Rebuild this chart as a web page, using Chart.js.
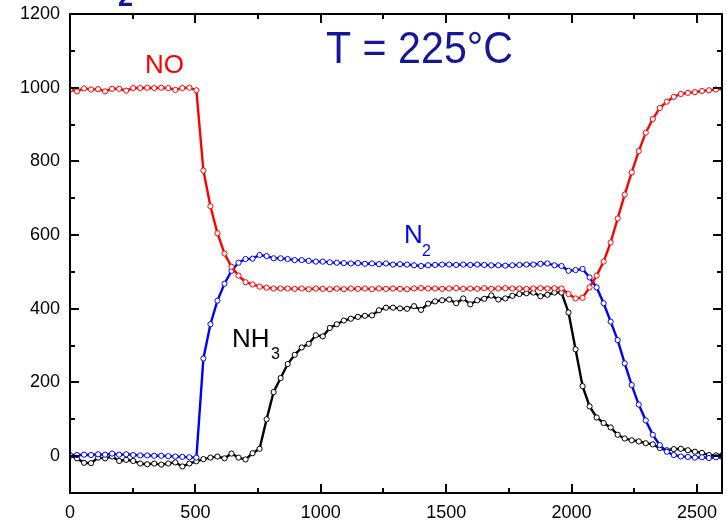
<!DOCTYPE html>
<html>
<head>
<meta charset="utf-8">
<script src="https://cdn.jsdelivr.net/npm/chart.js@4"></script>
<style>
html,body{margin:0;padding:0;background:#fff;}
#wrap{width:727px;height:526px;position:relative;}
</style>
</head>
<body>
<div id="wrap"><canvas id="c" width="727" height="526"></canvas></div>
<script>
// ---- data ----
const times = [0,28,56,84,112,140,168,196,224,252,280,308,336,364,392,420,448,476,504,532,560,588,616,644,672,700,728,756,784,812,840,868,896,924,952,980,1008,1036,1064,1092,1120,1148,1176,1204,1232,1260,1288,1316,1344,1372,1400,1428,1456,1484,1512,1540,1568,1596,1624,1652,1680,1708,1736,1764,1792,1820,1848,1876,1904,1932,1960,1988,2016,2044,2072,2100,2128,2156,2184,2212,2240,2268,2296,2324,2352,2380,2408,2436,2464,2492,2520,2548,2576,2604];
const noValues = [995,990,998,995,996,990,997,997,992,999,999,1000,999,1000,999,994,999,1000,993,775,678,605,550,514,490,472,466,460,457,455,455,455,454,455,453,455,454,453,455,453,455,454,455,453,455,454,455,454,453,455,456,455,455,454,455,456,454,455,454,456,454,455,456,455,455,454,455,456,455,456,455,440,428,430,458,490,528,580,645,710,770,828,878,915,945,962,975,983,986,988,991,993,995,997];
const n2Values = [3,3,4,3,5,4,7,4,5,3,2,2,1,1,0,-1,-2,-3,-4,265,358,422,468,503,525,535,536,546,543,537,537,535,532,532,530,528,528,526,525,524,523,524,522,523,521,523,520,521,520,518,516,518,519,520,520,519,520,519,520,519,518,518,517,518,519,520,520,522,523,518,516,503,505,508,485,458,415,365,315,252,193,140,97,58,30,12,3,-1,-2,-4,-3,-5,-3,-4];
const nh3Values = [1,-6,-18,-19,-4,-6,-1,-13,-10,-13,-20,-22,-20,-23,-20,-17,-28,-20,-14,-8,-4,-1,-6,7,-4,-9,8,20,100,174,212,250,275,295,305,328,325,348,358,368,373,378,381,382,396,403,403,401,400,407,397,414,420,423,425,415,428,412,423,427,436,425,428,435,440,442,444,434,438,444,444,390,290,190,135,105,90,78,58,48,43,40,35,32,22,16,19,20,16,12,9,3,2,5];
const seriesNames = ['NO','N2','NH3'];
const xTicks = [0,500,1000,1500,2000,2500];
const xMinor = [250,750,1250,1750,2250];
const yTicks = [0,200,400,600,800,1000,1200];
const yMinor = [-100,100,300,500,700,900,1100];

const FAMILY = '"Liberation Sans", Arial, sans-serif';
Chart.defaults.font.family = FAMILY;
Chart.defaults.font.size = 18;
Chart.defaults.color = '#000';

function pts(vals){ return times.map((t,i)=>({x:t,y:vals[i]})); }

const frame = {
  id:'frame',
  afterDraw(chart){
    const ctx = chart.ctx, a = chart.chartArea, xs = chart.scales.x, ys = chart.scales.y;
    ctx.save();
    ctx.strokeStyle = '#000';
    ctx.lineWidth = 2;
    ctx.strokeRect(a.left, a.top, a.right-a.left, a.bottom-a.top);
    const tick = (vals,len)=>{
      vals.forEach(v=>{
        const px = Math.round(xs.getPixelForValue(v));
        ctx.beginPath();
        ctx.moveTo(px, a.bottom); ctx.lineTo(px, a.bottom-len);
        ctx.moveTo(px, a.top); ctx.lineTo(px, a.top+len);
        ctx.stroke();
      });
    };
    const tickY = (vals,len)=>{
      vals.forEach(v=>{
        const py = Math.round(ys.getPixelForValue(v));
        ctx.beginPath();
        ctx.moveTo(a.left, py); ctx.lineTo(a.left+len, py);
        ctx.moveTo(a.right, py); ctx.lineTo(a.right-len, py);
        ctx.stroke();
      });
    };
    tick(xTicks,9); tick(xMinor,5);
    tickY(yTicks,9); tickY(yMinor,5);

    // labels
    ctx.textAlign = 'left';
    ctx.textBaseline = 'alphabetic';
    ctx.fillStyle = '#ff0000';
    ctx.font = '26px ' + FAMILY;
    ctx.fillText('NO', 145, 73);
    ctx.fillStyle = '#0000ff';
    ctx.fillText('N', 404, 243);
    ctx.font = '16px ' + FAMILY;
    ctx.fillText('2', 422, 256);
    ctx.fillStyle = '#000';
    ctx.font = '26px ' + FAMILY;
    ctx.fillText('NH', 232, 347);
    ctx.font = '16px ' + FAMILY;
    ctx.fillText('3', 271, 359);
    // temperature label
    ctx.fillStyle = '#16169a';
    ctx.font = '44px ' + FAMILY;
    const t = 'T = 225°C';
    const w = ctx.measureText(t).width;
    ctx.save();
    ctx.translate(326, 63);
    ctx.scale(187/w, 1);
    ctx.fillText(t, 0, 0);
    ctx.restore();
    // cut-off title fragment
    ctx.font = 'bold 27px ' + FAMILY;
    ctx.fillStyle = '#16169a';
    ctx.fillText('2', 118, 6);
    ctx.restore();
  }
};

const colors = ['#ff0000','#0000ff','#000000'];
const vals = [noValues, n2Values, nh3Values];

function noPad(s){ s.paddingTop = 0; s.paddingBottom = 0; s.paddingLeft = 0; s.paddingRight = 0; }

new Chart(document.getElementById('c'), {
  type:'line',
  data:{
    datasets: seriesNames.map((n,i)=>({
      label:n,
      data:pts(vals[i]),
      borderColor:colors[i],
      backgroundColor:'#ffffff',
      borderWidth:2.4,
      pointRadius:2.6,
      pointBorderWidth:1,
      pointBackgroundColor:'#ffffff',
      pointBorderColor:colors[i],
      tension:0,
      fill:false
    }))
  },
  options:{
    responsive:false,
    animation:false,
    events:[],
    layout:{padding:{top:14,right:2,left:0,bottom:0}},
    plugins:{legend:{display:false},tooltip:{enabled:false},title:{display:false}},
    scales:{
      x:{
        type:'linear', min:0, max:2600,
        grid:{display:false, drawTicks:false}, border:{display:false},
        afterBuildTicks(s){ s.ticks = xTicks.map(v=>({value:v})); },
        afterFit(s){ s.height = 33; noPad(s); },
        ticks:{color:'#000', padding:9, maxRotation:0, autoSkip:false, callback:v=>String(v), font:{family:FAMILY, size:18}}
      },
      y:{
        type:'linear', min:-100, max:1200,
        grid:{display:false, drawTicks:false}, border:{display:false},
        afterBuildTicks(s){ s.ticks = yTicks.map(v=>({value:v})); },
        afterFit(s){ s.width = 70; noPad(s); },
        ticks:{color:'#000', padding:10, autoSkip:false, callback:v=>String(v), font:{family:FAMILY, size:18}}
      }
    }
  },
  plugins:[frame]
});
</script>
</body>
</html>
